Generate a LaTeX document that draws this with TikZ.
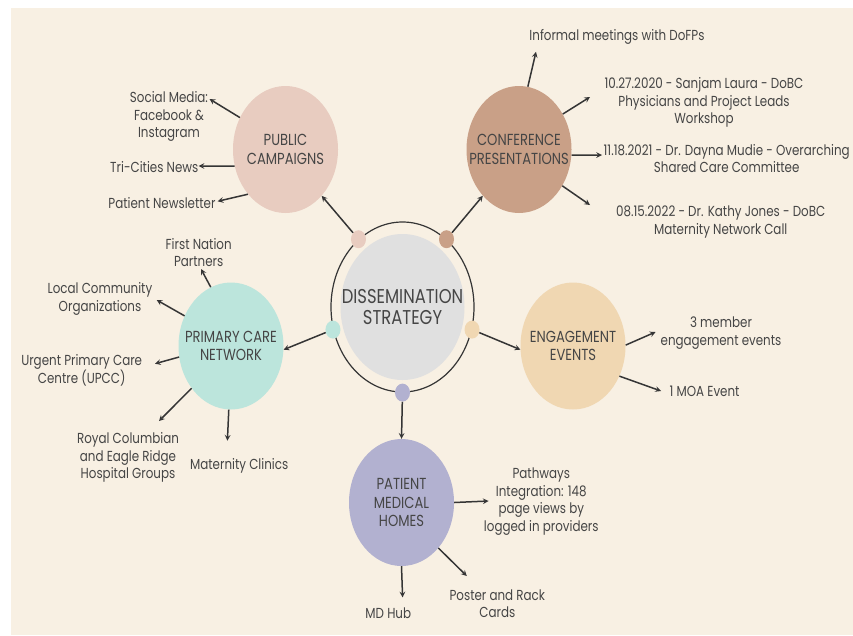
\documentclass[tikz,border=0pt]{standalone}
\usepackage{fontspec}
\setmainfont{Poppins}[FakeStretch=0.82]
\usetikzlibrary{shapes.geometric}
\definecolor{cream}{HTML}{F8F0E3}
\definecolor{ink}{HTML}{454545}
\definecolor{wire}{HTML}{353535}
\definecolor{hubgray}{HTML}{E0E0E0}
\definecolor{pubpink}{HTML}{E8CCC0}
\definecolor{confbrown}{HTML}{C9A087}
\definecolor{pcnteal}{HTML}{BCE5DC}
\definecolor{engbeige}{HTML}{F0D7B2}
\definecolor{pmhlilac}{HTML}{B2B1D0}
\tikzset{>=stealth}

\begin{document}
\begin{tikzpicture}[x=1pt,y=-1pt,
    blob/.style={ellipse,minimum width=105pt,minimum height=127pt,inner sep=0pt},
    dot/.style={ellipse,minimum width=15pt,minimum height=18pt,inner sep=0pt},
    lbl/.style={text=ink,font=\fontsize{16}{18.7}\selectfont,align=center},
    note/.style={text=ink,font=\fontsize{14.5}{17.5}\selectfont,align=center,inner sep=0pt},
    arr/.style={->,draw=wire,line width=1.5pt}]
    % background
    \fill[white] (0,0) rectangle (853,635);
    \fill[cream] (11,8) rectangle (853,635);

    % hub and ring
    \node[ellipse,draw=wire,line width=1.2pt,minimum width=143pt,minimum height=170pt,inner sep=0pt] (ring) at (402.5,307) {};
    \node[ellipse,fill=hubgray,minimum width=124pt,minimum height=146pt,inner sep=0pt,
        label={[lbl,font=\fontsize{20}{21.7}\selectfont]center:DISSEMINATION\\STRATEGY}] (hub) at (402.5,307) {};
    \node[dot,fill=pubpink] (dPc) at (ring.123) {};
    \node[dot,fill=confbrown] (dCp) at (ring.57) {};
    \node[dot,fill=pcnteal] (dPcn) at (ring.198) {};
    \node[dot,fill=engbeige] (dEe) at (ring.342) {};
    \node[dot,fill=pmhlilac] (dPmh) at (ring.270) {};

    % branches
    \node[blob,fill=pubpink,label={[lbl]center:PUBLIC\\CAMPAIGNS}] (pc) at (285.5,149.5) {};
    \node[blob,fill=confbrown,label={[lbl]center:CONFERENCE\\PRESENTATIONS}] (cp) at (519,149.5) {};
    \node[blob,fill=pcnteal,label={[lbl]center:PRIMARY CARE\\NETWORK}] (pcn) at (231,346) {};
    \node[blob,fill=engbeige,label={[lbl]center:ENGAGEMENT\\EVENTS}] (ee) at (573,346) {};
    \node[blob,fill=pmhlilac,label={[lbl]center:PATIENT\\MEDICAL\\HOMES}] (pmh) at (401.5,502.5) {};

    \draw[arr] (dPc) -- (pc.308);
    \draw[arr] (dCp) -- (cp.232);
    \draw[arr] (dPcn) -- (pcn.356);
    \draw[arr] (dEe) -- (ee.184);
    \draw[arr] (dPmh) -- (pmh.90);

    % outcomes
    \node[note] (sm) at (169,116.7) {Social Media:\\Facebook \&\\Instagram};
    \node[note] (tcn) at (154.3,166.7) {Tri-Cities News};
    \node[note] (pn) at (162,203.3) {Patient Newsletter};
    \node[note] (inf) at (617,37.3) {Informal meetings with DoFPs};
    \node[note] (dob) at (704,102.7) {10.27.2020 - Sanjam Laura - DoBC\\Physicians and Project Leads\\Workshop};
    \node[note] (scc) at (726.7,158.3) {11.18.2021 - Dr. Dayna Mudie - Overarching\\Shared Care Committee};
    \node[note] (mnc) at (720.7,222) {08.15.2022 - Dr. Kathy Jones - DoBC\\Maternity Network Call};
    \node[note] (fn) at (198.7,252.5) {First Nation\\Partners};
    \node[note] (lco) at (100,298.8) {Local Community\\Organizations};
    \node[note] (upcc) at (81.7,370.3) {Urgent Primary Care\\Centre (UPCC)};
    \node[note] (rc) at (128,457.8) {Royal Columbian\\and Eagle Ridge\\Hospital Groups};
    \node[note] (mc) at (239.2,466) {Maternity Clinics};
    \node[note] (tme) at (721,333) {3 member\\engagement events};
    \node[note] (moa) at (704.6,391.3) {1 MOA Event};
    \node[note] (pw) at (541.3,501.7) {Pathways\\Integration: 148\\page views by\\logged in providers};
    \node[note] (prc) at (497.3,603.5) {Poster and Rack\\Cards};
    \node[note] (mdh) at (388.3,613.3) {MD Hub};

    \coordinate (smTip) at (209.5,99);
    \coordinate (tcTip) at (198.6,166);
    \coordinate (pnTip) at (217.6,201.3);
    \coordinate (infTip) at (536,51.8);
    \coordinate (dobTip) at (590,97);
    \coordinate (sccTip) at (602,155);
    \coordinate (mncTip) at (590,205);
    \coordinate (fnTip) at (201,269);
    \coordinate (lcoTip) at (156.7,300);
    \coordinate (upccTip) at (155,363.7);
    \coordinate (rcTip) at (159,421);
    \coordinate (mcTip) at (227.4,440.7);
    \coordinate (tmeTip) at (655.6,332);
    \coordinate (moaTip) at (661,391);
    \coordinate (pwTip) at (488.6,501);
    \coordinate (prcTip) at (466.8,576);
    \coordinate (mdhTip) at (402.6,597.4);

    \foreach \s/\t in {pc.145/smTip, pc.198/tcTip, pc.230/pnTip,
        cp.82/infTip, cp.39/dobTip, cp.354/sccTip, cp.320/mncTip,
        pcn.109/fnTip, pcn.147/lcoTip, pcn.192/upccTip, pcn.227/rcTip, pcn.268/mcTip,
        ee.1/tmeTip, ee.327/moaTip,
        pmh.0/pwTip, pmh.309/prcTip, pmh.270/mdhTip}
        \draw[arr] (\s) -- (\t);
\end{tikzpicture}
\end{document}
